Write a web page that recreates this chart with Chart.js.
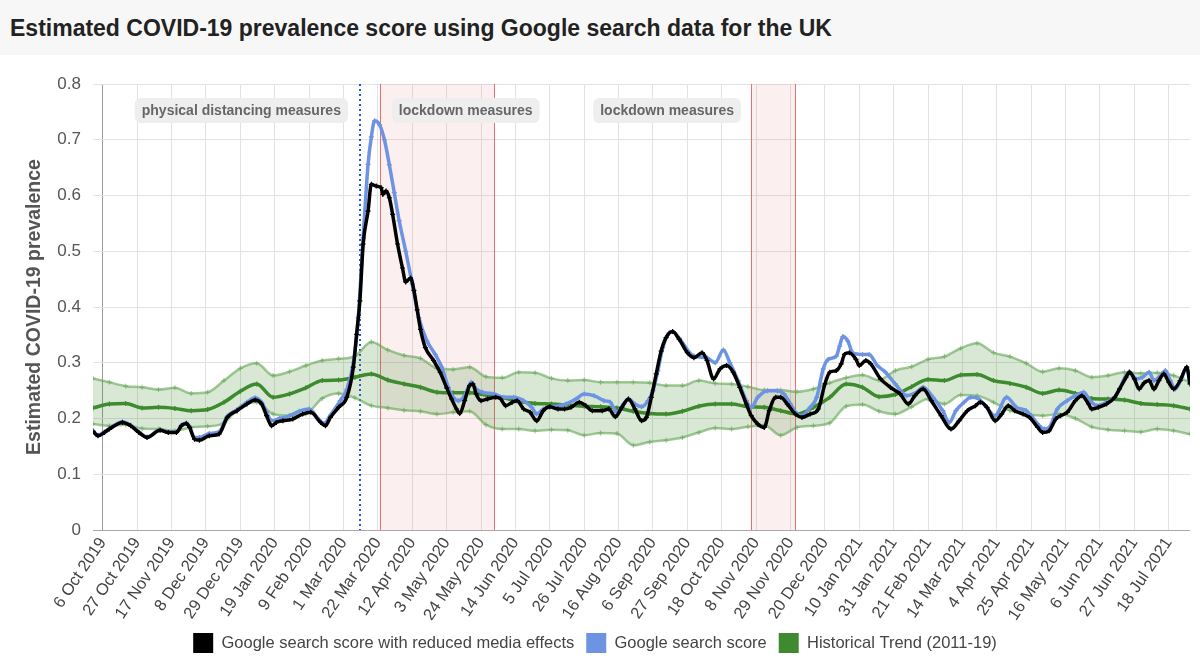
<!DOCTYPE html>
<html>
<head>
<meta charset="utf-8">
<script src="https://cdn.jsdelivr.net/npm/chart.js@4.4.0/dist/chart.umd.min.js"></script>
<style>
    html, body { margin: 0; padding: 0; background: #fff; }
    body { width: 1200px; height: 665px; overflow: hidden; font-family: "Liberation Sans", Arial, sans-serif; }
    #header { height: 55px; background: #f7f7f7; box-sizing: border-box; padding: 15px 0 0 10px;
              font-weight: bold; font-size: 23px; color: #222; line-height: 26px; }
    #wrap { position: relative; width: 1200px; height: 610px; }
</style>
</head>
<body>
<div id="header">Estimated COVID-19 prevalence score using Google search data for the UK</div>
<div id="wrap"><canvas id="chart" width="1200" height="610"></canvas></div>
<script>
// x values are days counted from 6 Oct 2019
const tickLabels = ['6 Oct 2019', '27 Oct 2019', '17 Nov 2019', '8 Dec 2019', '29 Dec 2019', '19 Jan 2020',
    '9 Feb 2020', '1 Mar 2020', '22 Mar 2020', '12 Apr 2020', '3 May 2020', '24 May 2020', '14 Jun 2020',
    '5 Jul 2020', '26 Jul 2020', '16 Aug 2020', '6 Sep 2020', '27 Sep 2020', '18 Oct 2020', '8 Nov 2020',
    '29 Nov 2020', '20 Dec 2020', '10 Jan 2021', '31 Jan 2021', '21 Feb 2021', '14 Mar 2021', '4 Apr 2021',
    '25 Apr 2021', '16 May 2021', '6 Jun 2021', '27 Jun 2021', '18 Jul 2021'];

const reducedDays = [-6, -3, 1, 4, 12, 17, 22, 27, 35, 40, 45, 48, 51, 53, 56, 59, 65, 71, 76, 82, 88, 93, 97, 100,
    103, 106, 110, 116, 122, 127, 133, 136, 139, 144, 149, 153, 155, 157, 159, 162, 164, 167, 170, 171, 173, 175,
    177, 180, 183, 185, 188, 190, 192, 194, 197, 202, 206, 210, 213, 216, 218, 221, 224, 226, 228, 231, 235, 240,
    243, 246, 250, 253, 257, 261, 265, 269, 273, 278, 282, 286, 291, 295, 299, 305, 309, 313, 317, 321, 325, 329,
    332, 335, 338, 341, 344, 348, 352, 357, 361, 366, 369, 373, 377, 381, 385, 389, 393, 396, 400, 404, 407, 411,
    414, 418, 423, 427, 432, 437, 441, 444, 448, 451, 453, 456, 460, 462, 466, 469, 475, 481, 487, 492, 496, 501,
    506, 512, 518, 523, 528, 533, 536, 540, 545, 549, 553, 557, 562, 566, 571, 574, 578, 582, 585, 589, 594, 598,
    602, 604, 608, 613, 618, 621, 625, 627, 630, 633, 636, 639, 642, 645, 648, 651, 654, 658, 662, 664];
const reducedScore = [.177, .169, .175, .181, .193, .187, .175, .166, .179, .175, .175, .187, .191, .184, .163, .161,
    .169, .172, .202, .214, .226, .233, .226, .205, .187, .193, .196, .199, .208, .211, .193, .187, .202, .220, .238,
    .292, .351, .411, .513, .572, .620, .617, .614, .602, .608, .596, .566, .513, .470, .445, .452, .430, .395, .360,
    .327, .304, .283, .255, .235, .217, .209, .232, .259, .262, .244, .232, .235, .238, .235, .223, .229, .232, .217,
    .211, .196, .214, .221, .217, .217, .220, .229, .223, .214, .214, .217, .203, .220, .235, .217, .196, .202, .238,
    .280, .321, .345, .356, .342, .318, .309, .318, .304, .271, .289, .295, .283, .256, .226, .205, .190, .184, .214,
    .238, .238, .226, .208, .202, .208, .217, .262, .283, .286, .298, .315, .318, .306, .295, .304, .298, .271, .256,
    .244, .226, .241, .253, .232, .205, .181, .196, .214, .223, .229, .220, .196, .208, .223, .214, .208, .202, .184,
    .175, .178, .199, .205, .211, .232, .241, .226, .217, .220, .226, .238, .253, .274, .283, .271, .253, .264, .268,
    .253, .268, .280, .265, .253, .268, .292, .262];

const searchDays = [-6, -3, 1, 4, 12, 17, 22, 27, 35, 40, 45, 48, 51, 53, 56, 59, 65, 71, 76, 82, 88, 93, 97, 100,
    103, 108, 114, 120, 126, 132, 135, 139, 145, 149, 153, 156, 159, 162, 164, 166, 169, 172, 175, 178, 181, 185,
    189, 193, 198, 203, 207, 211, 214, 217, 221, 225, 228, 232, 239, 245, 251, 257, 262, 265, 269, 275, 283, 289,
    294, 300, 306, 310, 314, 318, 321, 325, 329, 333, 336, 339, 342, 346, 348, 352, 361, 369, 374, 379, 383, 388,
    393, 396, 400, 406, 412, 416, 420, 424, 427, 432, 436, 440, 443, 448, 450, 452, 455, 458, 464, 468, 473, 478,
    484, 491, 497, 501, 507, 513, 517, 521, 526, 530, 535, 539, 545, 552, 558, 564, 567, 572, 575, 578, 583, 589,
    594, 599, 603, 607, 613, 618, 625, 627, 631, 635, 639, 642, 646, 649, 652, 655, 659, 662, 664];
const searchScore = [.178, .170, .176, .182, .194, .188, .176, .167, .180, .176, .176, .188, .192, .185, .166, .166,
    .173, .176, .204, .216, .229, .237, .229, .212, .196, .200, .205, .213, .217, .198, .191, .206, .232, .252, .300,
    .381, .524, .656, .705, .734, .727, .700, .655, .605, .555, .500, .441, .381, .339, .315, .292, .256, .238, .232,
    .241, .265, .253, .247, .244, .238, .238, .232, .220, .208, .217, .221, .226, .235, .244, .241, .232, .229, .211,
    .226, .235, .226, .221, .232, .250, .286, .327, .354, .356, .344, .312, .309, .300, .323, .300, .268, .232, .220,
    .238, .250, .250, .244, .226, .208, .205, .220, .238, .289, .306, .312, .330, .347, .339, .318, .315, .315, .295,
    .283, .262, .241, .247, .256, .238, .214, .193, .214, .229, .238, .235, .223, .205, .238, .220, .214, .205, .187,
    .181, .184, .217, .232, .241, .247, .232, .223, .229, .238, .277, .284, .271, .274, .283, .268, .277, .286, .268,
    .253, .274, .292, .262];

const trendDays = [-6, 4, 14, 24, 34, 44, 54, 64, 74, 84, 94, 104, 114, 124, 134, 144, 154, 164, 174, 184, 194, 204,
    214, 224, 234, 244, 254, 264, 274, 284, 294, 304, 314, 324, 334, 344, 354, 364, 374, 384, 394, 404, 414, 424,
    434, 444, 454, 464, 474, 484, 494, 504, 514, 524, 534, 544, 554, 564, 574, 584, 594, 604, 614, 624, 634, 644,
    654, 664];
const trendMid = [.219, .226, .227, .219, .220, .218, .214, .216, .229, .249, .262, .238, .244, .255, .268, .269, .274,
    .280, .269, .262, .256, .247, .246, .246, .242, .237, .231, .227, .226, .224, .222, .221, .219, .213, .209, .208,
    .213, .222, .226, .226, .221, .220, .214, .208, .220, .238, .262, .256, .239, .243, .257, .270, .268, .278, .279,
    .268, .263, .256, .245, .251, .245, .236, .235, .233, .227, .225, .223, .217];
const trendUpper = [.272, .265, .258, .256, .252, .255, .245, .247, .268, .290, .299, .277, .284, .295, .304, .307,
    .312, .337, .323, .313, .308, .290, .288, .292, .275, .273, .283, .282, .272, .268, .269, .265, .265, .265, .264,
    .259, .259, .268, .263, .262, .257, .251, .251, .248, .253, .264, .273, .278, .269, .286, .293, .306, .311, .326,
    .335, .318, .311, .299, .284, .290, .286, .274, .277, .283, .281, .282, .277, .265];
const trendLower = [.190, .187, .189, .182, .181, .178, .184, .186, .192, .221, .229, .208, .205, .208, .236, .245,
    .237, .223, .219, .215, .213, .208, .211, .213, .189, .181, .181, .178, .180, .179, .170, .174, .173, .152, .158,
    .161, .166, .175, .183, .181, .185, .188, .170, .184, .187, .192, .222, .225, .213, .208, .221, .235, .226, .242,
    .241, .229, .214, .208, .205, .208, .200, .185, .180, .178, .176, .181, .178, .172];

// events (days from 6 Oct 2019)
const whoPandemicDay = 157;
const lockdownStart = [169, 396];
const lockdownEnd = [239, 423];
const periodLabels = ['physical distancing measures', 'lockdown measures', 'lockdown measures'];
const periodLabelDays = [19.5, 176.5, 299.5];

const FONT = '"Liberation Sans", Arial, sans-serif';
Chart.defaults.font.family = FONT;

function toPoints(days, values) {
    return days.map((d, i) => ({ x: d, y: values[i] }));
}

const periodsPlugin = {
    id: 'periods',
    beforeDatasetsDraw(chart) {
        const { ctx, chartArea: a, scales: { x } } = chart;
        ctx.save();
        lockdownStart.forEach((s, i) => {
            const x0 = x.getPixelForValue(s);
            const x1 = x.getPixelForValue(lockdownEnd[i]);
            ctx.fillStyle = 'rgba(230, 120, 120, 0.12)';
            ctx.fillRect(x0, a.top, x1 - x0, a.bottom - a.top);
            ctx.strokeStyle = '#e27272';
            ctx.lineWidth = 1;
            [x0, x1].forEach(px => {
                ctx.beginPath();
                ctx.moveTo(Math.round(px) + 0.5, a.top);
                ctx.lineTo(Math.round(px) + 0.5, a.bottom);
                ctx.stroke();
            });
        });

        const wx = Math.round(x.getPixelForValue(whoPandemicDay));
        ctx.strokeStyle = '#2457c5';
        ctx.lineWidth = 2;
        ctx.setLineDash([2, 3]);
        ctx.beginPath();
        ctx.moveTo(wx, a.top);
        ctx.lineTo(wx, a.bottom);
        ctx.stroke();
        ctx.setLineDash([]);

        ctx.font = 'bold 14px ' + FONT;
        ctx.textBaseline = 'middle';
        periodLabels.forEach((text, i) => {
            const bx = x.getPixelForValue(periodLabelDays[i]);
            const w = ctx.measureText(text).width + 14;
            const by = a.top + 14;
            ctx.fillStyle = '#eeeeee';
            ctx.beginPath();
            ctx.roundRect(bx, by, w, 25, 6);
            ctx.fill();
            ctx.fillStyle = '#666';
            ctx.fillText(text, bx + 7, by + 13);
        });
        ctx.restore();
    }
};

const lineStyle = {
    pointStyle: 'cross',
    pointRadius: 2.5,
    pointBorderWidth: 1.2,
    pointHoverRadius: 0,
    cubicInterpolationMode: 'monotone',
    fill: false
};

new Chart(document.getElementById('chart'), {
    type: 'line',
    data: {
        datasets: [
            Object.assign({}, lineStyle, {
                label: 'Google search score with reduced media effects',
                data: toPoints(reducedDays, reducedScore),
                borderColor: '#000', backgroundColor: '#000', borderWidth: 3.5, order: 0
            }),
            Object.assign({}, lineStyle, {
                label: 'Google search score',
                data: toPoints(searchDays, searchScore),
                borderColor: '#6d93e3', backgroundColor: '#6d93e3', borderWidth: 3.5, order: 1
            }),
            Object.assign({}, lineStyle, {
                label: 'Historical Trend (2011-19)',
                data: toPoints(trendDays, trendMid),
                borderColor: '#3d8b2e', backgroundColor: '#3d8b2e', borderWidth: 3.5, order: 2
            }),
            Object.assign({}, lineStyle, {
                label: 'upper',
                data: toPoints(trendDays, trendUpper),
                borderColor: 'rgba(100, 165, 85, 0.6)', borderWidth: 2.5, order: 3
            }),
            Object.assign({}, lineStyle, {
                label: 'lower',
                data: toPoints(trendDays, trendLower),
                borderColor: 'rgba(100, 165, 85, 0.6)', borderWidth: 2.5, order: 3,
                fill: '-1', backgroundColor: 'rgba(61, 139, 46, 0.2)'
            })
        ]
    },
    options: {
        responsive: false,
        animation: false,
        events: [],
        layout: { padding: { top: 29, right: 10, left: 0, bottom: 2 } },
        plugins: {
            tooltip: { enabled: false },
            legend: {
                position: 'bottom',
                labels: {
                    boxWidth: 20,
                    boxHeight: 20,
                    padding: 12,
                    color: '#444',
                    font: { size: 16.5 },
                    generateLabels(chart) {
                        return Chart.defaults.plugins.legend.labels.generateLabels(chart)
                            .filter(l => l.datasetIndex < 3)
                            .map(l => Object.assign(l, { lineWidth: 0 }));
                    }
                }
            }
        },
        scales: {
            x: {
                type: 'linear',
                min: -6,
                max: 664,
                afterBuildTicks: s => { s.ticks = tickLabels.map((_, i) => ({ value: i * 21 })); },
                afterFit: s => { s.height = 91; },
                ticks: {
                    autoSkip: false,
                    minRotation: 56,
                    maxRotation: 56,
                    color: '#444',
                    font: { size: 16.5 },
                    padding: 4,
                    callback: (v, i) => tickLabels[i]
                },
                grid: {
                    color: c => c.index === 0 ? '#999' : '#e2e2e2',
                    drawTicks: false
                },
                border: { display: false }
            },
            y: {
                min: 0,
                max: 0.8,
                afterFit: s => { s.width = 93; },
                ticks: { stepSize: 0.1, color: '#555', font: { size: 17 }, padding: 12 },
                grid: {
                    color: c => c.tick.value === 0 ? '#aaa' : '#e2e2e2',
                    drawTicks: false
                },
                border: { display: false },
                title: {
                    display: true,
                    text: 'Estimated COVID-19 prevalence',
                    color: '#555',
                    font: { size: 19.5, weight: 'bold' },
                    padding: { top: 23, bottom: 0 }
                }
            }
        }
    },
    plugins: [periodsPlugin]
});
</script>
</body>
</html>
